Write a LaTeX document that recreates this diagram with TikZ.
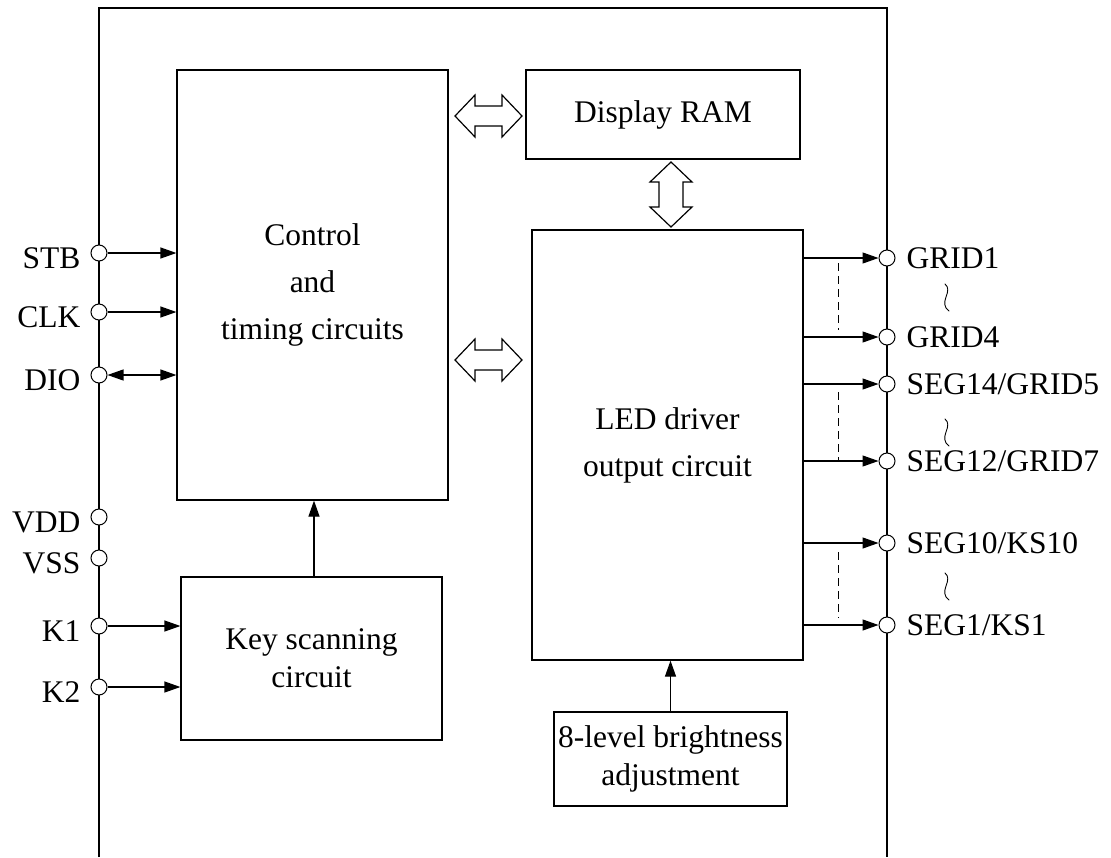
\documentclass[tikz,border=0pt]{standalone}
\usepackage{fontspec}
\setmainfont{Liberation Serif}
\usetikzlibrary{arrows.meta,calc}
\begin{document}
\begin{tikzpicture}[x=1pt,y=-1pt,
  line width=1.2pt,
  box/.style={draw,line width=1.2pt,inner sep=0pt,align=center},
  bigtxt/.style={font=\fontsize{31.5}{47}\selectfont},
  smalltxt/.style={font=\fontsize{31.5}{38}\selectfont},
  pad/.style={draw,circle,fill=white,minimum size=16pt,inner sep=0pt,line width=1pt},
  lbl/.style={font=\fontsize{31.5}{38}\selectfont,inner sep=0pt},
  arr/.style={-{Triangle[length=16pt,width=11pt]},line width=1.2pt},
  darr/.style={{Triangle[length=16pt,width=11pt]}-{Triangle[length=16pt,width=11pt]},line width=1.2pt},
  hollow/.style={draw,fill=white,line width=1.2pt,line join=miter},
  wavy/.style={line width=0.9pt,line cap=round}
]
\useasboundingbox (0,0) rectangle (1111,857);

% outer frame
\draw[line width=1.3pt] (99,857) -- (99,8) -- (887,8) -- (887,857);

% blocks
\node[box,bigtxt,minimum width=271pt,minimum height=430pt] (ctrl) at (312.5,285) {Control\\and\\timing circuits};
\node[box,smalltxt,minimum width=274pt,minimum height=89pt] (ram) at (663,114.5) {Display RAM};
\node[box,bigtxt,minimum width=271pt,minimum height=430pt] (led) at (667.5,445) {LED driver\\output circuit};
\node[box,smalltxt,minimum width=261pt,minimum height=163pt] (key) at (311.5,658.5) {Key scanning\\circuit};
\node[box,smalltxt,minimum width=233pt,minimum height=94pt] (bright) at (670.5,759) {8-level brightness\\adjustment};

% hollow double arrows (horizontal)
\foreach \cy in {116,360}{
  \draw[hollow] (455,\cy) -- (475,\cy-21) -- (475,\cy-10) -- (502,\cy-10) -- (502,\cy-21)
    -- (522,\cy) -- (502,\cy+21) -- (502,\cy+10) -- (475,\cy+10) -- (475,\cy+21) -- cycle;
}
% hollow double arrow (vertical)
\draw[hollow] (671,162) -- (692,182) -- (683,182) -- (683,207) -- (692,207)
  -- (671,227) -- (650,207) -- (659,207) -- (659,182) -- (650,182) -- cycle;

% left pads
\node[pad] (stb) at (99,253) {};
\node[pad] (clk) at (99,312) {};
\node[pad] (dio) at (99,375) {};
\node[pad] (vdd) at (99,517) {};
\node[pad] (vss) at (99,558) {};
\node[pad] (k1)  at (99,626) {};
\node[pad] (k2)  at (99,687) {};

\node[lbl,anchor=base east] (lstb) at (81,268) {STB};
\node[lbl,anchor=base east] (lclk) at (81,327) {CLK};
\node[lbl,anchor=base east] (ldio) at (81,390) {DIO};
\node[lbl,anchor=base east] (lvdd) at (81,532) {VDD};
\node[lbl,anchor=base east] (lvss) at (81,573) {VSS};
\node[lbl,anchor=base east] (lk1)  at (81,641) {K1};
\node[lbl,anchor=base east] (lk2)  at (81,702) {K2};

\draw[arr] (stb.east) -- (stb.east -| ctrl.west);
\draw[arr] (clk.east) -- (clk.east -| ctrl.west);
\draw[darr] (dio.east) -- (dio.east -| ctrl.west);
\draw[arr] (k1.east) -- (k1.east -| key.west);
\draw[arr] (k2.east) -- (k2.east -| key.west);

% internal arrows
\draw[arr] (key.north -| 314,0) -- (314,0 |- ctrl.south);
\draw[arr] (bright.north) -- (bright.north |- led.south);

% right pads
\node[pad] (g1)  at (887,258) {};
\node[pad] (g4)  at (887,337) {};
\node[pad] (s14) at (887,384) {};
\node[pad] (s12) at (887,461) {};
\node[pad] (s10) at (887,543) {};
\node[pad] (s1)  at (887,625) {};

\node[lbl,anchor=base west] (lg1)  at (906,268) {GRID1};
\node[lbl,anchor=base west] (lg4)  at (906,347) {GRID4};
\node[lbl,anchor=base west] (ls14) at (906,394) {SEG14/GRID5};
\node[lbl,anchor=base west] (ls12) at (906,471) {SEG12/GRID7};
\node[lbl,anchor=base west] (ls10) at (906,553) {SEG10/KS10};
\node[lbl,anchor=base west] (ls1)  at (906,635) {SEG1/KS1};

% vertical tilde marks
\foreach \wy in {298,433,587}{
  \draw[wavy] (945,\wy-14) .. controls (949,\wy-11) and (948,\wy-6) .. (946,\wy-1)
    .. controls (944,\wy+4) and (944,\wy+10) .. (949,\wy+13);
}

\foreach \p in {g1,g4,s14,s12,s10,s1}{
  \draw[arr] (led.east |- \p.west) -- (\p.west);
}

% dashed continuation lines
\coordinate (d1a) at (838,263); \coordinate (d1b) at (838,330);
\coordinate (d2a) at (838,392); \coordinate (d2b) at (838,460);
\coordinate (d3a) at (838,552); \coordinate (d3b) at (838,618);
\draw[line width=1pt,dash pattern=on 8pt off 5pt] (d1a) -- (d1b);
\draw[line width=1pt,dash pattern=on 8pt off 5pt] (d2a) -- (d2b);
\draw[line width=1pt,dash pattern=on 8pt off 5pt] (d3a) -- (d3b);

\end{tikzpicture}
\end{document}
